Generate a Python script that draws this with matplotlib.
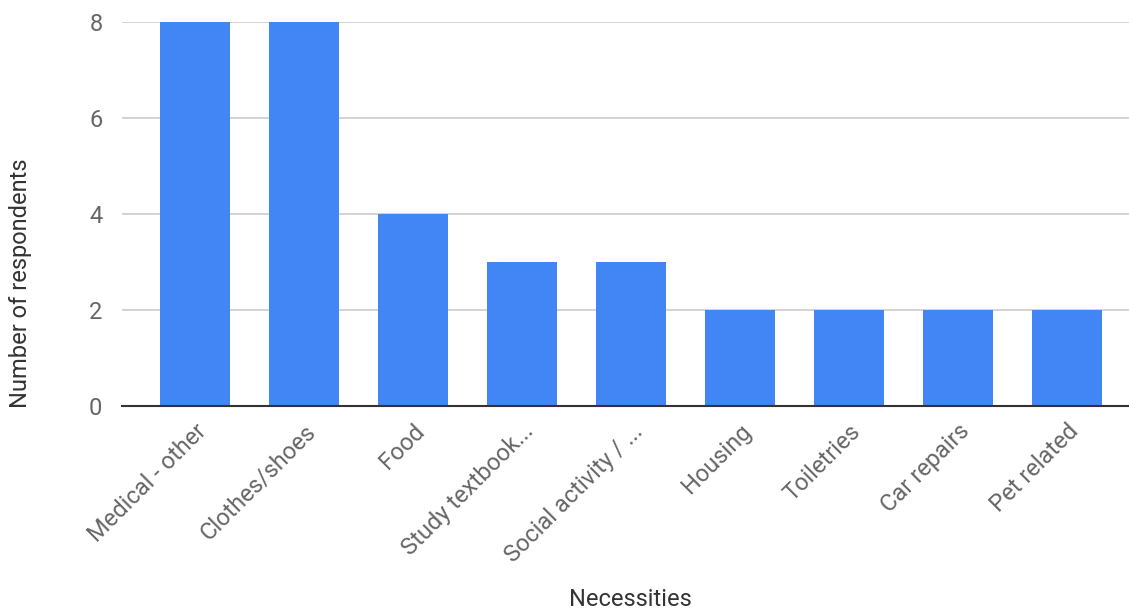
import matplotlib.pyplot as plt

# Survey counts per necessity
categories = ['Medical - other', 'Clothes/shoes', 'Food', 'Study textbook...',
              'Social activity / ...', 'Housing', 'Toiletries', 'Car repairs',
              'Pet related']
counts = [8, 8, 4, 3, 3, 2, 2, 2, 2]
y_ticks = [0, 2, 4, 6, 8]

plt.rcParams['font.family'] = ['Roboto', 'DejaVu Sans']

fig = plt.figure(figsize=(11.29, 6.14), dpi=100)
ax = fig.add_axes([0.108, 0.339, 0.895, 0.625])

x = range(len(categories))
ax.bar(x, counts, width=0.64, color='#4285F4', zorder=3)

ax.set_ylim(0, 8)
ax.set_xlim(-0.67, 8.6)
ax.set_yticks(y_ticks)
ax.set_yticklabels([str(v) for v in y_ticks], fontsize=17, color='#666666')
ax.grid(axis='y', color='#cccccc', linewidth=1.2, zorder=0)
ax.tick_params(axis='both', length=0)
ax.tick_params(axis='y', pad=14)

ax.set_xticks(list(x))
ax.set_xticklabels(categories, rotation=45, ha='right', rotation_mode='anchor',
                   fontsize=17, color='#666666')
ax.tick_params(axis='x', pad=10)

for side in ['top', 'right', 'left']:
    ax.spines[side].set_visible(False)
ax.spines['bottom'].set_color('#333333')
ax.spines['bottom'].set_linewidth(1.5)
ax.spines['bottom'].set_zorder(4)

fig.text(0.558, 0.005, 'Necessities', ha='center', va='bottom', fontsize=17,
         color='#333333')
fig.text(0.008, 0.538, 'Number of respondents', ha='left', va='center',
         rotation=90, fontsize=17, color='#333333')

plt.savefig('out.png', dpi=100)
